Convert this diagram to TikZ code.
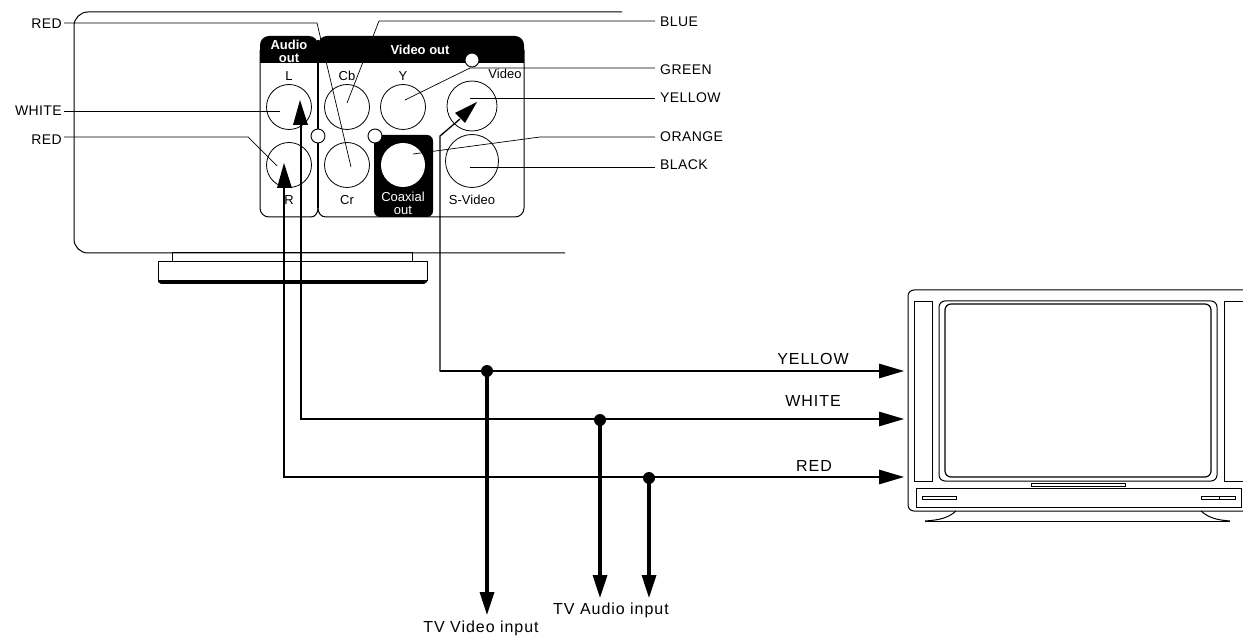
\documentclass[tikz,border=0pt]{standalone}
\usepackage{fontspec}
\setmainfont{Liberation Sans}
\usetikzlibrary{arrows.meta}
\tikzset{
  thin line/.style={line width=0.7pt,black},
  med line/.style={line width=1pt,black},
  wire/.style={line width=1.3pt,black},
  wiretip/.style={-{Triangle[length=25pt,width=14.5pt]}},
  drop/.style={line width=3.3pt,black,-{Triangle[length=23pt,width=14pt]}},
  jack/.style={circle,draw,line width=0.8pt,inner sep=0pt,fill=none},
  smallc/.style={circle,draw,line width=0.9pt,fill=white,inner sep=0pt,minimum size=14pt},
  dotn/.style={circle,fill=black,inner sep=0pt,minimum size=12pt},
  lab/.style={font=\fontsize{14}{16}\selectfont\addfontfeatures{LetterSpace=3},inner sep=0pt},
  plab/.style={font=\fontsize{13}{13}\selectfont,inner sep=0pt,align=center},
  plabb/.style={font=\fontsize{13}{13}\selectfont\bfseries,text=white,inner sep=0pt,align=center},
  wlab/.style={font=\fontsize{16}{18}\selectfont\addfontfeatures{LetterSpace=6},inner sep=0pt,align=center},
}
\begin{document}
\begin{tikzpicture}[x=1pt,y=-1pt]
\useasboundingbox (0,0) rectangle (1243,636);
% player body
\draw[med line,rounded corners=14pt] (622,12) -- (74,12) -- (74,253) -- (565,253);
\draw[med line] (172,253) rectangle (412,262);
\draw[med line] (158,262) rectangle (427,281);
\fill (158,281) -- (427,281) -- (427,282) -- (424,284) -- (161,284) -- (158,282) -- cycle;
% panels
\fill[rounded corners=9pt] (260,63) -- (260,36) -- (318,36) -- (318,63) -- cycle;
\fill (260,55) rectangle (318,63);
\fill[rounded corners=9pt] (318,63) -- (318,36) -- (524,36) -- (524,63) -- cycle;
\fill (318,55) rectangle (524,63);
\draw[med line,rounded corners=9pt] (260,50) -- (260,217) -- (311,217);
\draw[med line,rounded corners=9pt] (524,50) -- (524,217) -- (326,217);
\draw[line width=1.4pt] (318,40) -- (318,208);
\draw[med line] (318,208) .. controls (318,213) and (315,217) .. (311,217);
\draw[med line] (318,208) .. controls (318,213) and (321,217) .. (326,217);
\fill[rounded corners=6pt] (374,135) -- (433,135) -- (433,217) -- (374,217) -- cycle;
\node[circle,fill=white,inner sep=0pt,minimum size=44pt] (coax) at (403,165) {};
% jacks
\node[jack,minimum size=45pt] (jL) at (289,107) {};
\node[jack,minimum size=45pt] (jR) at (289,165) {};
\node[jack,minimum size=45pt] (jCb) at (347,107) {};
\node[jack,minimum size=45pt] (jCr) at (347,165) {};
\node[jack,minimum size=45pt] (jY) at (403,107) {};
\node[jack,minimum size=50pt] (jV) at (472,106) {};
\node[jack,minimum size=53pt] (jS) at (472,161) {};
% panel text
\node[plabb] (taudio) at (289,51) {Audio\\out};
\node[plabb] (tvideo) at (420,50) {Video out};
\node[plab] (tL) at (289,76) {L};
\node[plab] (tCb) at (347,76) {Cb};
\node[plab] (tY) at (403,76) {Y};
\node[plab] (tV) at (505,74) {Video};
\node[plab] (tR) at (289,200) {R};
\node[plab] (tCr) at (347,200) {Cr};
\node[plab] (tS) at (472,200) {S-Video};
\node[plab,text=white] (tC) at (403,203) {Coaxial\\out};
% leader labels
\node[lab,anchor=east] (lred1) at (62,24) {RED};
\node[lab,anchor=east] (lwhite) at (62,111) {WHITE};
\node[lab,anchor=east] (lred2) at (62,140) {RED};
\node[lab,anchor=west] (lblue) at (660,22) {BLUE};
\node[lab,anchor=west] (lgreen) at (660,70) {GREEN};
\node[lab,anchor=west] (lyellow) at (660,98) {YELLOW};
\node[lab,anchor=west] (lorange) at (660,137) {ORANGE};
\node[lab,anchor=west] (lblack) at (660,165) {BLACK};
% leader ends
\coordinate (sRed) at (64,23);
\coordinate (sWhite) at (64,111);
\coordinate (sRedb) at (64,137);
\coordinate (sBlue) at (655,21);
\coordinate (sGreen) at (655,68);
\coordinate (sYellow) at (655,98);
\coordinate (sOrange) at (655,137);
\coordinate (sBlack) at (655,167);
\coordinate (eRcr) at (351,167);
\coordinate (eCb) at (347,103);
\coordinate (eY) at (405,100);
\coordinate (eV) at (470,98);
\coordinate (eC) at (413,154);
\coordinate (eS) at (470,167);
\coordinate (eL) at (280,111);
\coordinate (eR) at (277,166);
\draw[thin line] (sRed) -- (317,23) -- (eRcr);
\draw[thin line] (sBlue) -- (379,21) -- (eCb);
\draw[thin line] (sGreen) -- (470,68) -- (eY);
\draw[thin line] (sYellow) -- (eV);
\draw[thin line] (sOrange) -- (540,137) -- (eC);
\draw[thin line] (sBlack) -- (eS);
\draw[thin line] (sWhite) -- (eL);
\draw[thin line] (sRedb) -- (248,137) -- (eR);
% white dots on top
\node[smallc] (s1) at (472,60) {};
\node[smallc] (s2) at (318,136) {};
\node[smallc] (s3) at (375,136) {};
% TV
\draw[line width=1pt,rounded corners=6pt] (1243,290) -- (908,290) -- (908,511) -- (1243,511);
\draw[med line] (914,302) rectangle (932,481);
\draw[med line] (1243,302) -- (1224,302) -- (1224,481) -- (1243,481);
\draw[med line,rounded corners=6pt] (939,301) rectangle (1217,481);
\draw[line width=1.2pt,rounded corners=6pt] (945,304) rectangle (1211,477);
\draw[med line] (916,488) rectangle (1241,507);
\draw[med line,fill=white] (1031,483) rectangle (1125,486);
\draw[line width=1.4pt] (1031,483.5) -- (1080,483.5);
\draw[med line] (922,496) rectangle (956,499);
\draw[med line] (1201,496) rectangle (1235,499) (1219,496) -- (1219,499);
\draw[med line] (925,521) -- (1230,521);
\draw[med line] (956,511) .. controls (948,518) and (940,520) .. (925,521);
\draw[med line] (1201,511) .. controls (1209,518) and (1217,520) .. (1230,521);
% wires
\coordinate (tvY) at (904,371);
\coordinate (tvW) at (904,419);
\coordinate (tvR) at (904,477);
\coordinate (tipV) at (477,102);
\coordinate (tipL) at (300,100);
\coordinate (tipR) at (284,163);
\draw[wire] (tipV) ++(-17,17) -- (440,136) -- (440,371) -- (487,371);
\draw[wire,wiretip] (440,371) -- (tvY);
\draw[wire,wiretip] (301,300) -- (301,419) -- (tvW);
\draw[wire] (301,300) -- (301,125);
\draw[wire,wiretip] (284,300) -- (284,477) -- (tvR);
\draw[wire] (284,300) -- (284,185);
\fill (tipV) -- (455,113) -- (465,123) -- cycle;
\fill (tipL) -- (293,125) -- (308,125) -- cycle;
\fill (tipR) -- (277,188) -- (292,188) -- cycle;
% drops
\node[dotn] (d1) at (487,371) {};
\node[dotn] (d2) at (600,420) {};
\node[dotn] (d3) at (649,478) {};
\coordinate (b1) at (487,615);
\coordinate (b2) at (600,598);
\coordinate (b3) at (649,598);
\draw[drop] (d1.center) -- (b1);
\draw[drop] (d2.center) -- (b2);
\draw[drop] (d3.center) -- (b3);
\node[wlab] (wy) at (813,359) {YELLOW};
\node[wlab] (ww) at (813,401) {WHITE};
\node[wlab] (wr) at (814,466) {RED};
\node[wlab] (ta) at (611,610) {TV Audio input};
\node[wlab] (tv) at (481,628) {TV Video input};
\end{tikzpicture}
\end{document}
